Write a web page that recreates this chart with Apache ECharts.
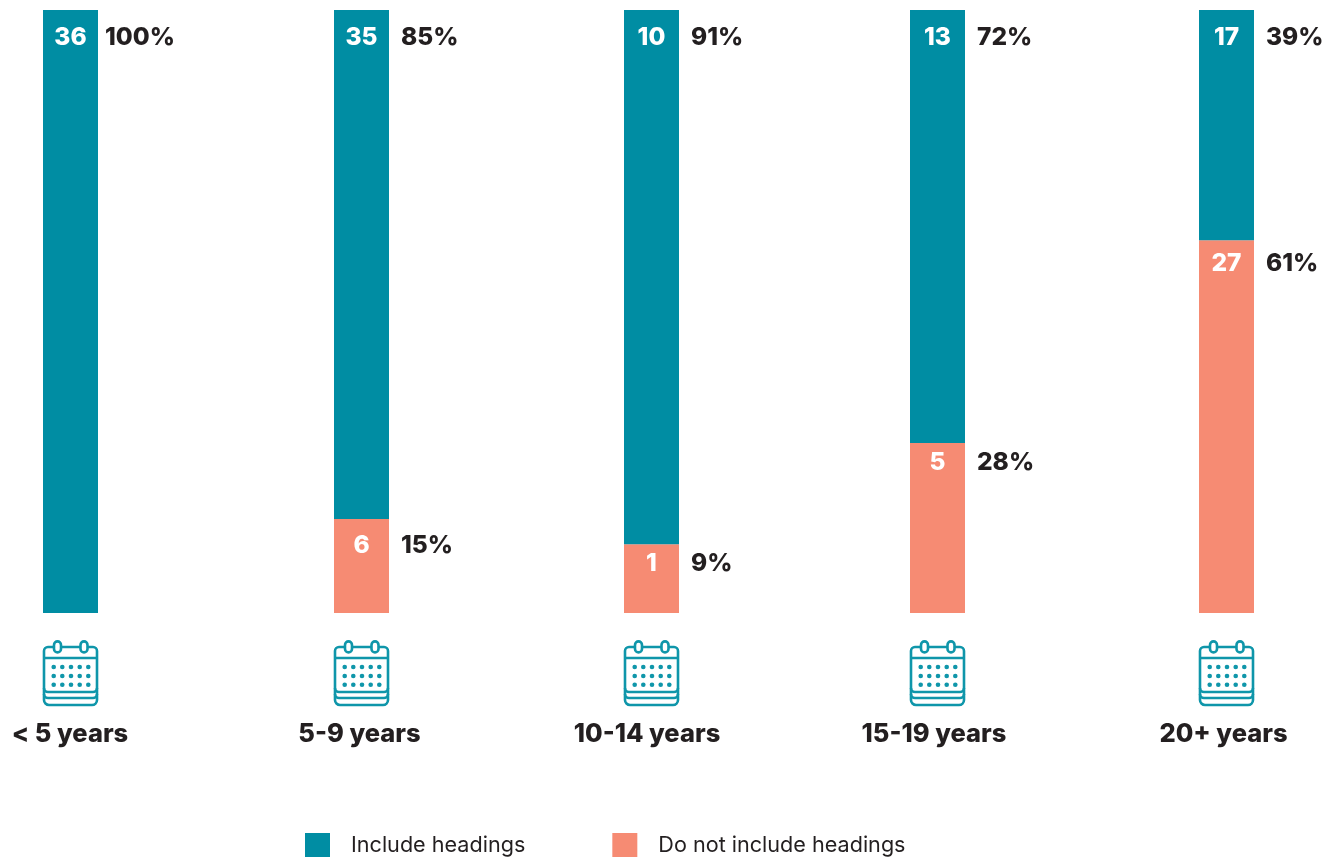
<!DOCTYPE html>
<html><head><meta charset="utf-8">
<style>html,body{margin:0;padding:0;background:#fff}#c{width:1338px;height:857px}</style>
<script src="https://cdn.jsdelivr.net/npm/echarts@6/dist/echarts.min.js"></script>
</head><body><div id="c"></div>
<script>
var categories = ['< 5 years', '5-9 years', '10-14 years', '15-19 years', '20+ years'];
var includeCounts = [36, 35, 10, 13, 17];
var excludeCounts = [null, 6, 1, 5, 27];
var includePct = ['100%', '85%', '91%', '72%', '39%'];
var excludePct = [null, '15%', '9%', '28%', '61%'];
var includeShare = [100, 84.4, 88.6, 71.8, 38.2];
var excludeShare = [null, 15.6, 11.4, 28.2, 61.8];
var seriesNames = ['Include headings', 'Do not include headings'];

var TEAL = '#008da3', ICON = '#0f96aa', SALMON = '#f68b73', INK = '#231f20';
var FONT = 'Inter, Lato, sans-serif';
var barLefts = [43, 334, 624, 910, 1199];
var barW = 55;
var labelShift = [0.5, 2, 4.5, 3.5, 3];
var pctGap = [7, 12, 12, 12, 12];
var excludeLabelTop = [0, 14, 6, 7, 10];

var dots = '';
[10.7, 19.3, 28, 36.7, 45.3].forEach(function (x) {
  [27, 36, 44.7].forEach(function (y) {
    dots += '<circle cx="' + x + '" cy="' + y + '" r="2.3" fill="' + ICON + '"/>';
  });
});
var iconSvg = '<svg xmlns="http://www.w3.org/2000/svg" width="57" height="67" viewBox="-1 0 57 67">' +
  '<g fill="none" stroke="' + ICON + '" stroke-width="2.6">' +
  '<path d="M5 7H50a4 4 0 0 1 4 4V60a5 5 0 0 1-5 5H6a5 5 0 0 1-5-5V11a4 4 0 0 1 4-4Z"/>' +
  '<path d="M1 18H54"/><path d="M1 48a4 4 0 0 0 4 4H50a4 4 0 0 0 4-4"/><path d="M1 54a4 4 0 0 0 4 4H50a4 4 0 0 0 4-4"/>' +
  '<rect x="11" y="1.4" width="7" height="11" rx="3.5" fill="#fff"/>' +
  '<rect x="37.5" y="1.4" width="7" height="11" rx="3.5" fill="#fff"/>' +
  '</g>' + dots + '</svg>';
var iconUrl = 'data:image/svg+xml;charset=utf-8,' + encodeURIComponent(iconSvg);

function segLabel(count, pct, gap, top) {
  return {
    show: true,
    position: [0, top],
    align: 'left',
    verticalAlign: 'top',
    formatter: '{c|' + count + '}{p|' + pct + '}',
    rich: {
      c: { width: barW, align: 'center', color: '#fff', fontFamily: FONT, fontWeight: 800, fontSize: 24.5, lineHeight: 26 },
      p: { padding: [0, 0, 0, gap], color: INK, fontFamily: FONT, fontWeight: 800, fontSize: 24.5, lineHeight: 26 }
    }
  };
}

var grids = [], xAxes = [], yAxes = [], series = [];
categories.forEach(function (cat, i) {
  grids.push({ left: barLefts[i], width: barW, top: 10, height: 603 });
  xAxes.push({
    gridIndex: i, type: 'category', data: [cat],
    axisLine: { show: false }, axisTick: { show: false },
    axisLabel: {
      margin: 27, interval: 0,
      formatter: '{icon|}\n{t|' + cat + '}',
      rich: {
        icon: { width: 57, height: 67, backgroundColor: { image: iconUrl } },
        t: { padding: [26, labelShift[i] * 2, 0, 0], color: INK, fontFamily: FONT, fontWeight: 800, fontSize: 25.5, lineHeight: 28 }
      }
    }
  });
  yAxes.push({ gridIndex: i, type: 'value', min: 0, max: 100, show: false });
  series.push({
    name: seriesNames[1], type: 'bar', stack: 's' + i, xAxisIndex: i, yAxisIndex: i,
    barWidth: barW, itemStyle: { color: SALMON }, data: [excludeShare[i]],
    label: excludeCounts[i] == null ? { show: false } : segLabel(excludeCounts[i], excludePct[i], pctGap[i], excludeLabelTop[i])
  });
  series.push({
    name: seriesNames[0], type: 'bar', stack: 's' + i, xAxisIndex: i, yAxisIndex: i,
    barWidth: barW, itemStyle: { color: TEAL }, data: [includeShare[i]],
    label: segLabel(includeCounts[i], includePct[i], pctGap[i], 15)
  });
});

var chart = echarts.init(document.getElementById('c'), null, { renderer: 'canvas' });
chart.setOption({
  animation: false,
  backgroundColor: '#fff',
  grid: grids, xAxis: xAxes, yAxis: yAxes, series: series,
  legend: {
    left: 305, top: 833, padding: 0, itemWidth: 25, itemHeight: 24, itemGap: 87,
    icon: 'rect', selectedMode: false,
    data: seriesNames,
    textStyle: { color: INK, fontFamily: FONT, fontSize: 21.6, fontWeight: 400, padding: [6, 0, 0, 16] }
  }
});
</script></body></html>
